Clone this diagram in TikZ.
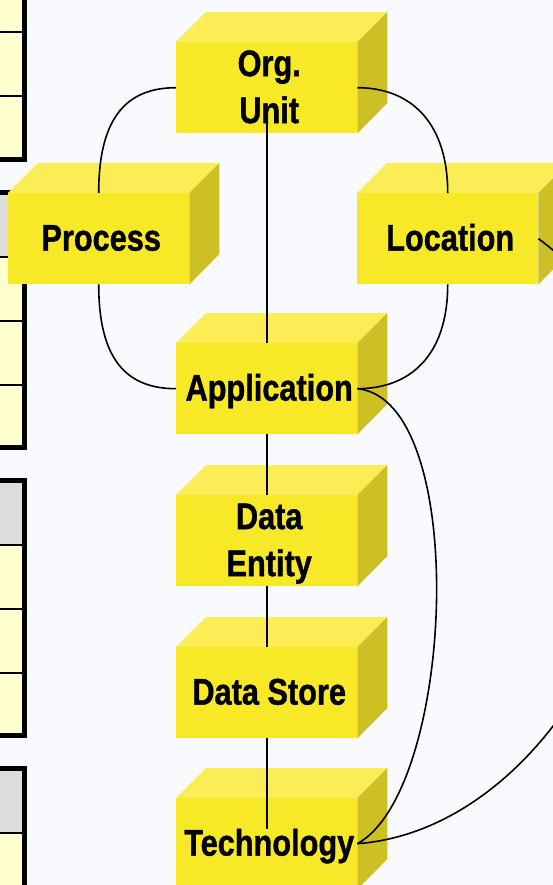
\documentclass[tikz,border=0pt]{standalone}
\usepackage{fontspec}
\setmainfont{Liberation Sans}[BoldFeatures={FakeBold=1.2}]
\usepackage{graphicx}

\definecolor{pagebg}{RGB}{249,250,253}
\definecolor{cubefront}{RGB}{248,233,40}
\definecolor{cubetopc}{RGB}{250,237,85}
\definecolor{cubesidec}{RGB}{204,192,38}
\definecolor{tblyellow}{RGB}{255,255,208}
\definecolor{tblgrey}{RGB}{220,220,220}

% narrow bold label text, one or more centred lines
\newcommand\cubetext[1]{\scalebox{0.83}[1]{\begin{tabular}{@{}c@{}}#1\end{tabular}}}

\tikzset{
  front/.style={rectangle, fill=cubefront, minimum width=181pt, minimum height=91pt,
                inner sep=0pt, anchor=north west},
  cubetop/.style={fill=cubetopc},
  cubeside/.style={fill=cubesidec},
  lbl/.style={inner sep=0pt, font=\fontsize{37}{47}\selectfont\bfseries},
  link/.style={draw=black, line width=1.6pt},
}

\begin{document}
\begin{tikzpicture}[x=1pt, y=-1pt]
\useasboundingbox (0,0) rectangle (553,885);
\begin{scope}
\clip (0,0) rectangle (553,885);
\fill[pagebg] (0,0) rectangle (553,885);

% partial tables along the left edge
\foreach \t in {-95.5,192.5,480.5,768.5} {
  \fill[tblgrey] (-20,\t) rectangle (24.5,\t+64);
  \fill[tblyellow] (-20,\t+64) rectangle (24.5,\t+255);
  \draw[line width=2pt] (-20,\t+64) -- (24.5,\t+64)
                        (-20,\t+128) -- (24.5,\t+128)
                        (-20,\t+192) -- (24.5,\t+192);
  \draw[line width=5pt] (-20,\t) -- (24.5,\t) -- (24.5,\t+255) -- (-20,\t+255);
}

% cube fronts
\node[front] (org)   at (176,42)  {};
\node[front] (proc)  at (8,193)   {};
\node[front] (loc)   at (357,193) {};
\node[front] (app)   at (176,343) {};
\node[front] (ent)   at (176,495) {};
\node[front] (store) at (176,647) {};
\node[front] (tech)  at (176,798) {};

% cube tops and right sides
\foreach \n in {org,proc,loc,app,ent,store,tech} {
  \fill[cubetop] (\n.north west) -- ++(30,-30) -- ++(181,0) -- (\n.north east) -- cycle;
  \fill[cubeside] (\n.north east) -- ++(30,-30) -- ++(0,91) -- (\n.south east) -- cycle;
}

% labels
\tikzset{lblpos/.style={xshift=2.5pt, yshift=-2.5pt}}
\node[lbl] (orgT)   at ([lblpos]org.center)   {\cubetext{Org.\\Unit}};
\node[lbl] (procT)  at ([lblpos]proc.center)  {\cubetext{Process}};
\node[lbl] (locT)   at ([lblpos]loc.center)   {\cubetext{Location}};
\node[lbl] (appT)   at ([lblpos]app.center)   {\cubetext{Application}};
\node[lbl] (entT)   at ([lblpos]ent.center)   {\cubetext{Data\\Entity}};
\node[lbl] (storeT) at ([lblpos]store.center) {\cubetext{Data Store}};
\node[lbl] (techT)  at ([lblpos]tech.center)  {\cubetext{Technology}};

\coordinate (orgStem) at ([yshift=-23pt]org.center);
\coordinate (techTop) at ([yshift=15pt]tech.center);

% connectors
\draw[link] (org.west) .. controls +(-52,0) and +(0,-72) .. (proc.north);
\draw[link] (org.east) .. controls +(52,0) and +(0,-72) .. (loc.north);
\draw[link] (proc.south) .. controls +(0,72) and +(-52,0) .. (app.west);
\draw[link] (loc.south) .. controls +(0,72) and +(52,0) .. (app.east);
\draw[link] (orgStem) -- (app.north);
\draw[link] (app.south) -- (ent.north);
\draw[link] (ent.south) -- (store.north);
\draw[link] (store.south) -- (techTop);
\draw[link] (app.east) .. controls +(113,11) and +(98,-54) .. (tech.east);
\draw[link] (loc.east) .. controls +(222,161.5) and +(243,-18.5) .. (tech.east);
\end{scope}
\end{tikzpicture}
\end{document}
